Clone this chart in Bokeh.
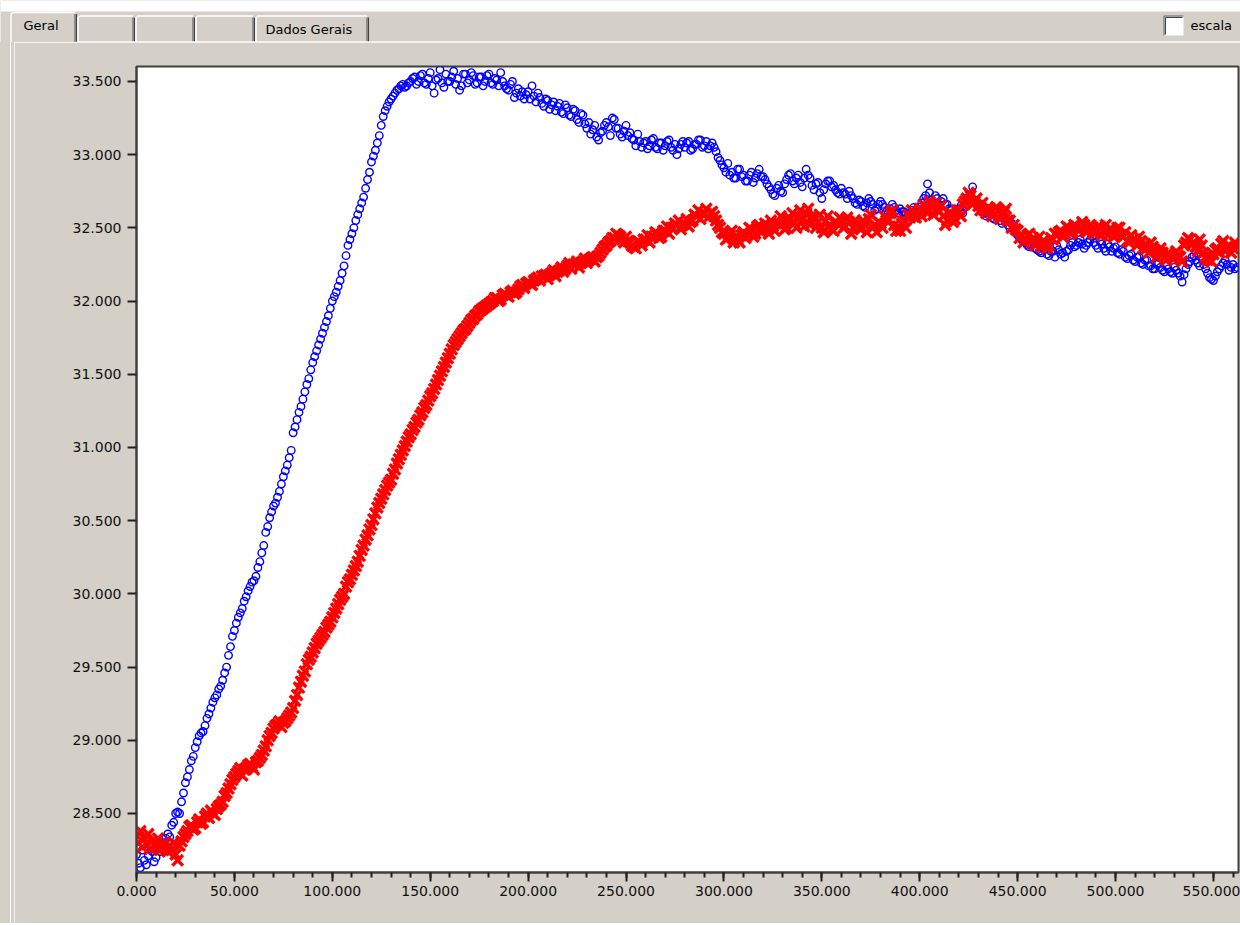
from bokeh.plotting import figure
from bokeh.models import Range1d, FixedTicker, SingleIntervalTicker, PrintfTickFormatter, Div
from bokeh.layouts import column, row
from bokeh.embed import file_html
from bokeh.resources import INLINE
from bokeh.core.properties import value

# ---------------- data ----------------
time_s = list(range(0, 563))

blue_series = [
    28.22, 28.16, 28.13, 28.25, 28.18, 28.15, 28.21, 28.28, 28.24, 28.17,
    28.20, 28.26, 28.24, 28.29, 28.30, 28.33, 28.36, 28.34, 28.42, 28.44,
    28.50, 28.51, 28.50, 28.58, 28.64, 28.71, 28.75, 28.80, 28.86, 28.89,
    28.95, 28.99, 29.03, 29.05, 29.06, 29.10, 29.15, 29.18, 29.22, 29.26,
    29.29, 29.31, 29.35, 29.37, 29.41, 29.46, 29.50, 29.58, 29.64, 29.71,
    29.75, 29.80, 29.84, 29.87, 29.90, 29.95, 29.98, 30.02, 30.05, 30.08,
    30.09, 30.12, 30.18, 30.22, 30.28, 30.33, 30.42, 30.46, 30.52, 30.56,
    30.60, 30.62, 30.66, 30.70, 30.75, 30.80, 30.84, 30.88, 30.93, 30.98,
    31.10, 31.14, 31.19, 31.24, 31.28, 31.33, 31.38, 31.43, 31.47, 31.53,
    31.58, 31.62, 31.66, 31.70, 31.74, 31.78, 31.82, 31.86, 31.90, 31.95,
    32.00, 32.03, 32.06, 32.10, 32.14, 32.19, 32.24, 32.31, 32.38, 32.42,
    32.46, 32.50, 32.55, 32.59, 32.63, 32.67, 32.71, 32.77, 32.83, 32.88,
    32.95, 32.99, 33.03, 33.08, 33.13, 33.20, 33.26, 33.30, 33.33, 33.36,
    33.38, 33.40, 33.42, 33.44, 33.45, 33.47, 33.48, 33.46, 33.47, 33.49,
    33.50, 33.52, 33.53, 33.48, 33.50, 33.54, 33.55, 33.49, 33.48, 33.52,
    33.56, 33.47, 33.42, 33.51, 33.52, 33.58, 33.49, 33.46, 33.55, 33.50,
    33.50, 33.53, 33.57, 33.48, 33.52, 33.44, 33.47, 33.55, 33.55, 33.49,
    33.51, 33.56, 33.54, 33.48, 33.49, 33.53, 33.53, 33.47, 33.50, 33.54,
    33.55, 33.49, 33.48, 33.52, 33.51, 33.47, 33.56, 33.50, 33.47, 33.45,
    33.44, 33.48, 33.50, 33.39, 33.42, 33.45, 33.40, 33.43, 33.38, 33.41,
    33.43, 33.38, 33.47, 33.40, 33.36, 33.42, 33.39, 33.35, 33.33, 33.38,
    33.37, 33.31, 33.34, 33.36, 33.30, 33.33, 33.35, 33.29, 33.28, 33.34,
    33.32, 33.27, 33.26, 33.31, 33.30, 33.24, 33.22, 33.28, 33.27, 33.21,
    33.18, 33.22, 33.14, 33.17, 33.20, 33.12, 33.10, 33.15, 33.16, 33.20,
    33.22, 33.19, 33.13, 33.25, 33.24, 33.18, 33.18, 33.14, 33.12, 33.16,
    33.20, 33.13, 33.15, 33.11, 33.10, 33.06, 33.14, 33.09, 33.05, 33.08,
    33.09, 33.04, 33.06, 33.10, 33.11, 33.05, 33.04, 33.08, 33.08, 33.03,
    33.06, 33.09, 33.10, 33.05, 33.03, 33.07, 33.00, 33.04, 33.07, 33.09,
    33.05, 33.08, 33.09, 33.03, 33.04, 33.07, 33.07, 33.10, 33.10, 33.05,
    33.06, 33.09, 33.04, 33.06, 33.08, 33.05, 33.02, 32.98, 32.96, 32.93,
    32.91, 32.88, 32.94, 32.86, 32.88, 32.84, 32.84, 32.90, 32.90, 32.85,
    32.86, 32.82, 32.82, 32.86, 32.88, 32.81, 32.84, 32.87, 32.90, 32.85,
    32.85, 32.83, 32.80, 32.78, 32.76, 32.73, 32.72, 32.77, 32.79, 32.75,
    32.74, 32.80, 32.83, 32.86, 32.87, 32.82, 32.80, 32.84, 32.86, 32.81,
    32.78, 32.84, 32.90, 32.86, 32.84, 32.79, 32.76, 32.80, 32.81, 32.74,
    32.70, 32.76, 32.80, 32.82, 32.82, 32.78, 32.79, 32.76, 32.74, 32.73,
    32.77, 32.74, 32.73, 32.70, 32.75, 32.72, 32.70, 32.67, 32.66, 32.69,
    32.68, 32.65, 32.64, 32.67, 32.70, 32.68, 32.66, 32.62, 32.63, 32.66,
    32.68, 32.66, 32.64, 32.61, 32.60, 32.63, 32.66, 32.64, 32.62, 32.60,
    32.63, 32.61, 32.61, 32.59, 32.58, 32.60, 32.62, 32.64, 32.60, 32.62,
    32.64, 32.67, 32.70, 32.72, 32.80, 32.74, 32.69, 32.66, 32.72, 32.70,
    32.65, 32.68, 32.70, 32.66, 32.66, 32.63, 32.62, 32.60, 32.58, 32.61,
    32.63, 32.65, 32.60, 32.64, 32.66, 32.70, 32.72, 32.78, 32.68, 32.66,
    32.64, 32.63, 32.62, 32.60, 32.58, 32.59, 32.60, 32.57, 32.56, 32.58,
    32.58, 32.55, 32.53, 32.56, 32.55, 32.52, 32.50, 32.53, 32.52, 32.48,
    32.45, 32.44, 32.42, 32.41, 32.40, 32.38, 32.37, 32.39, 32.40, 32.36,
    32.35, 32.34, 32.33, 32.36, 32.36, 32.32, 32.31, 32.34, 32.34, 32.30,
    32.38, 32.35, 32.32, 32.33, 32.30, 32.34, 32.35, 32.38, 32.40, 32.37,
    32.38, 32.40, 32.42, 32.39, 32.36, 32.38, 32.40, 32.42, 32.44, 32.40,
    32.38, 32.36, 32.41, 32.39, 32.36, 32.34, 32.39, 32.37, 32.34, 32.36,
    32.37, 32.33, 32.32, 32.35, 32.34, 32.30, 32.29, 32.31, 32.32, 32.28,
    32.27, 32.30, 32.30, 32.26, 32.25, 32.28, 32.28, 32.24, 32.24, 32.22,
    32.22, 32.25, 32.26, 32.23, 32.21, 32.20, 32.24, 32.22, 32.20, 32.19,
    32.23, 32.21, 32.19, 32.17, 32.13, 32.18, 32.22, 32.25, 32.27, 32.30,
    32.31, 32.28, 32.26, 32.24, 32.29, 32.25, 32.22, 32.19, 32.16, 32.15,
    32.14, 32.17, 32.20, 32.22, 32.24, 32.26, 32.28, 32.25, 32.21, 32.23,
    32.25, 32.22, 32.23,
]

red_series = [
    28.35, 28.30, 28.38, 28.27, 28.33, 28.29, 28.36, 28.26, 28.31, 28.28,
    28.27, 28.33, 28.25, 28.29, 28.30, 28.26, 28.24, 28.28, 28.25, 28.30,
    28.22, 28.18, 28.28, 28.31, 28.34, 28.36, 28.38, 28.41, 28.42, 28.39,
    28.40, 28.44, 28.46, 28.43, 28.44, 28.48, 28.50, 28.47, 28.52, 28.50,
    28.49, 28.53, 28.55, 28.56, 28.58, 28.62, 28.64, 28.67, 28.70, 28.73,
    28.75, 28.77, 28.79, 28.81, 28.76, 28.80, 28.81, 28.83, 28.84, 28.82,
    28.80, 28.85, 28.86, 28.88, 28.90, 28.93, 28.96, 29.00, 29.03, 29.05,
    29.08, 29.10, 29.11, 29.13, 29.09, 29.12, 29.13, 29.15, 29.17, 29.19,
    29.22, 29.27, 29.31, 29.36, 29.40, 29.44, 29.47, 29.52, 29.55, 29.57,
    29.60, 29.63, 29.66, 29.68, 29.70, 29.72, 29.74, 29.77, 29.79, 29.81,
    29.84, 29.87, 29.90, 29.93, 29.96, 29.98, 30.00, 30.05, 30.08, 30.10,
    30.13, 30.16, 30.19, 30.22, 30.26, 30.30, 30.33, 30.37, 30.40, 30.44,
    30.47, 30.51, 30.55, 30.59, 30.62, 30.65, 30.68, 30.71, 30.74, 30.76,
    30.78, 30.82, 30.85, 30.89, 30.92, 30.95, 30.98, 31.01, 31.04, 31.07,
    31.09, 31.12, 31.14, 31.17, 31.19, 31.22, 31.24, 31.27, 31.29, 31.32,
    31.35, 31.37, 31.40, 31.43, 31.46, 31.49, 31.52, 31.55, 31.58, 31.61,
    31.64, 31.67, 31.70, 31.72, 31.74, 31.76, 31.78, 31.80, 31.81, 31.83,
    31.85, 31.87, 31.88, 31.90, 31.91, 31.93, 31.94, 31.95, 31.96, 31.97,
    31.98, 31.99, 32.00, 32.02, 32.02, 32.00, 32.01, 32.04, 32.05, 32.04,
    32.03, 32.06, 32.07, 32.05, 32.06, 32.08, 32.10, 32.11, 32.09, 32.12,
    32.13, 32.12, 32.11, 32.14, 32.15, 32.16, 32.14, 32.17, 32.17, 32.18,
    32.15, 32.18, 32.19, 32.21, 32.17, 32.20, 32.21, 32.23, 32.20, 32.22,
    32.24, 32.26, 32.22, 32.25, 32.25, 32.27, 32.23, 32.26, 32.27, 32.29,
    32.26, 32.28, 32.29, 32.30, 32.27, 32.30, 32.31, 32.33, 32.35, 32.37,
    32.38, 32.40, 32.41, 32.43, 32.43, 32.46, 32.45, 32.44, 32.42, 32.40,
    32.44, 32.41, 32.40, 32.38, 32.37, 32.36, 32.41, 32.40, 32.38, 32.42,
    32.42, 32.45, 32.40, 32.44, 32.44, 32.47, 32.46, 32.43, 32.44, 32.48,
    32.48, 32.51, 32.46, 32.50, 32.50, 32.53, 32.52, 32.55, 32.49, 32.52,
    32.53, 32.56, 32.51, 32.54, 32.55, 32.59, 32.58, 32.62, 32.56, 32.60,
    32.60, 32.63, 32.57, 32.60, 32.61, 32.58, 32.55, 32.52, 32.50, 32.47,
    32.46, 32.42, 32.43, 32.45, 32.48, 32.40, 32.44, 32.42, 32.40, 32.45,
    32.47, 32.43, 32.45, 32.50, 32.49, 32.44, 32.46, 32.51, 32.52, 32.47,
    32.48, 32.53, 32.50, 32.46, 32.55, 32.51, 32.48, 32.53, 32.53, 32.58,
    32.53, 32.49, 32.50, 32.55, 32.56, 32.60, 32.53, 32.50, 32.58, 32.62,
    32.55, 32.51, 32.60, 32.63, 32.52, 32.58, 32.57, 32.50, 32.54, 32.59,
    32.50, 32.47, 32.55, 32.58, 32.52, 32.49, 32.48, 32.54, 32.53, 32.57,
    32.56, 32.50, 32.51, 32.57, 32.54, 32.46, 32.50, 32.55, 32.53, 32.50,
    32.49, 32.55, 32.52, 32.47, 32.56, 32.59, 32.50, 32.52, 32.47, 32.54,
    32.53, 32.50, 32.58, 32.55, 32.55, 32.60, 32.62, 32.52, 32.48, 32.51,
    32.48, 32.53, 32.55, 32.50, 32.59, 32.57, 32.62, 32.58, 32.57, 32.60,
    32.63, 32.58, 32.66, 32.62, 32.60, 32.68, 32.64, 32.59, 32.67, 32.63,
    32.61, 32.65, 32.58, 32.52, 32.55, 32.60, 32.60, 32.54, 32.56, 32.62,
    32.62, 32.58, 32.66, 32.68, 32.70, 32.74, 32.72, 32.66, 32.68, 32.70,
    32.65, 32.62, 32.67, 32.62, 32.60, 32.64, 32.63, 32.58, 32.59, 32.64,
    32.62, 32.56, 32.58, 32.61, 32.63, 32.55, 32.55, 32.50, 32.52, 32.49,
    32.48, 32.43, 32.45, 32.40, 32.42, 32.45, 32.46, 32.41, 32.43, 32.38,
    32.40, 32.44, 32.37, 32.41, 32.40, 32.36, 32.38, 32.43, 32.42, 32.46,
    32.45, 32.47, 32.48, 32.44, 32.46, 32.51, 32.50, 32.46, 32.47, 32.52,
    32.51, 32.48, 32.49, 32.54, 32.52, 32.47, 32.48, 32.52, 32.50, 32.46,
    32.47, 32.51, 32.51, 32.45, 32.48, 32.52, 32.45, 32.49, 32.49, 32.44,
    32.46, 32.50, 32.50, 32.45, 32.44, 32.47, 32.41, 32.40, 32.45, 32.42,
    32.42, 32.38, 32.44, 32.41, 32.36, 32.39, 32.36, 32.33, 32.40, 32.37,
    32.35, 32.30, 32.32, 32.36, 32.33, 32.30, 32.28, 32.33, 32.31, 32.29,
    32.29, 32.34, 32.31, 32.30, 32.27, 32.38, 32.40, 32.43, 32.42, 32.39,
    32.40, 32.37, 32.34, 32.42, 32.38, 32.33, 32.30, 32.28, 32.31, 32.27,
    32.32, 32.35, 32.36, 32.33, 32.39, 32.41, 32.34, 32.37, 32.38, 32.33,
    32.36, 32.40, 32.37,
]

y_ticks = [28.5, 29.0, 29.5, 30.0, 30.5, 31.0, 31.5, 32.0, 32.5, 33.0, 33.5]
tab_labels = ["Geral", "", "", "", "Dados Gerais"]
checkbox_label = "escala"

GRAY = "#d4d0c8"
FONT = "DejaVu Sans"

n = min(len(time_s), len(blue_series), len(red_series))

# ---------------- header (tab strip) ----------------
W = 1240
HH = 42
hdr = figure(width=W, height=HH, x_range=Range1d(0, W), y_range=Range1d(0, HH),
             x_axis_type=None, y_axis_type=None, toolbar_location=None,
             output_backend="svg", min_border=0)
hdr.grid.visible = False
hdr.outline_line_color = None
hdr.background_fill_color = GRAY
hdr.border_fill_color = GRAY

# white strip on top
hdr.quad(left=0, right=W, bottom=31, top=HH, fill_color="white", line_color=None)

tab_edges = [10, 77, 135, 195, 255, 369]
tab_tops = [30.5, 27, 27, 27, 27]
for i, lab in enumerate(tab_labels):
    l, r, t = tab_edges[i], tab_edges[i + 1], tab_tops[i]
    hdr.quad(left=l, right=r, bottom=0, top=t, fill_color=GRAY, line_color=None)
    hdr.line([l + 0.5, l + 0.5, l + 2.5, r - 2.5], [0, t - 2, t - 0.5, t - 0.5],
             line_color="white", line_width=1.5)
    hdr.line([r - 1.2, r - 1.2], [0, t - 2], line_color="#404040", line_width=1.5)
    hdr.line([r - 2.8, r - 2.8], [0, t - 2], line_color="#808080", line_width=1)
    if lab:
        hdr.text(x=[l + 13 if i == 0 else l + 10], y=[17 if i == 0 else 13], text=[lab],
                 text_font=value(FONT), text_font_size="13px",
                 text_baseline="middle", text_color="#000000")

# panel top border
hdr.quad(left=76, right=W, bottom=0, top=1.3, fill_color="white", line_color=None)

# checkbox
hdr.quad(left=1163, right=1183, bottom=7, top=27, fill_color="white", line_color=None)
hdr.line([1163.5, 1163.5, 1183], [7, 26.5, 26.5], line_color="#808080", line_width=1.5)
hdr.line([1165, 1165, 1182], [8, 25, 25], line_color="#404040", line_width=1)
hdr.text(x=[1190], y=[17], text=[checkbox_label], text_font=value(FONT),
         text_font_size="13px", text_baseline="middle", text_color="#000000")

# ---------------- left panel edge (plain box, no text) ----------------
SW = 14
HM = 881
strip = Div(text="", width=SW, height=HM, margin=(0, 0, 0, 0),
            styles={"background": "linear-gradient(to right, #d4d0c8 10px, #ffffff 10px, "
                                  "#ffffff 11px, #d4d0c8 11px)"})

# ---------------- main plot ----------------
p = figure(width=W - SW, height=HM,
           x_range=Range1d(0, 562.8), y_range=Range1d(28.097, 33.602),
           toolbar_location=None, output_backend="svg",
           min_border_left=122, min_border_right=2,
           min_border_top=24, min_border_bottom=51)
p.background_fill_color = "white"
p.border_fill_color = GRAY
p.outline_line_color = "#404040"
p.outline_line_width = 2
p.grid.visible = False

p.xaxis.ticker = SingleIntervalTicker(interval=50, num_minor_ticks=5)
p.yaxis.ticker = FixedTicker(ticks=y_ticks)
p.xaxis.formatter = PrintfTickFormatter(format="%.3f")
p.yaxis.formatter = PrintfTickFormatter(format="%.3f")

for ax in (p.xaxis, p.yaxis):
    ax.axis_line_color = "#404040"
    ax.axis_line_width = 2
    ax.major_tick_out = 9
    ax.major_tick_in = 0
    ax.major_tick_line_width = 2
    ax.major_tick_line_color = "#202020"
    ax.major_label_text_font = FONT
    ax.major_label_text_font_size = "14px"
    ax.major_label_text_color = "#101010"

p.xaxis.minor_tick_out = 5
p.xaxis.minor_tick_in = 0
p.xaxis.minor_tick_line_width = 2
p.xaxis.minor_tick_line_color = "#202020"
p.yaxis.minor_tick_line_color = None
p.yaxis.major_label_standoff = 6
p.xaxis.major_label_standoff = 4

p.scatter(time_s[:n], blue_series[:n], marker="circle", size=7.5,
          fill_color=None, line_color="#0000ff", line_width=1.4)
p.scatter(time_s[:n], red_series[:n], marker="x", size=15,
          line_color="#ff0000", line_width=3.4)

layout = column(hdr, row(strip, p, spacing=0), spacing=0)

with open("out.html", "w") as f:
    f.write(file_html(layout, INLINE))
